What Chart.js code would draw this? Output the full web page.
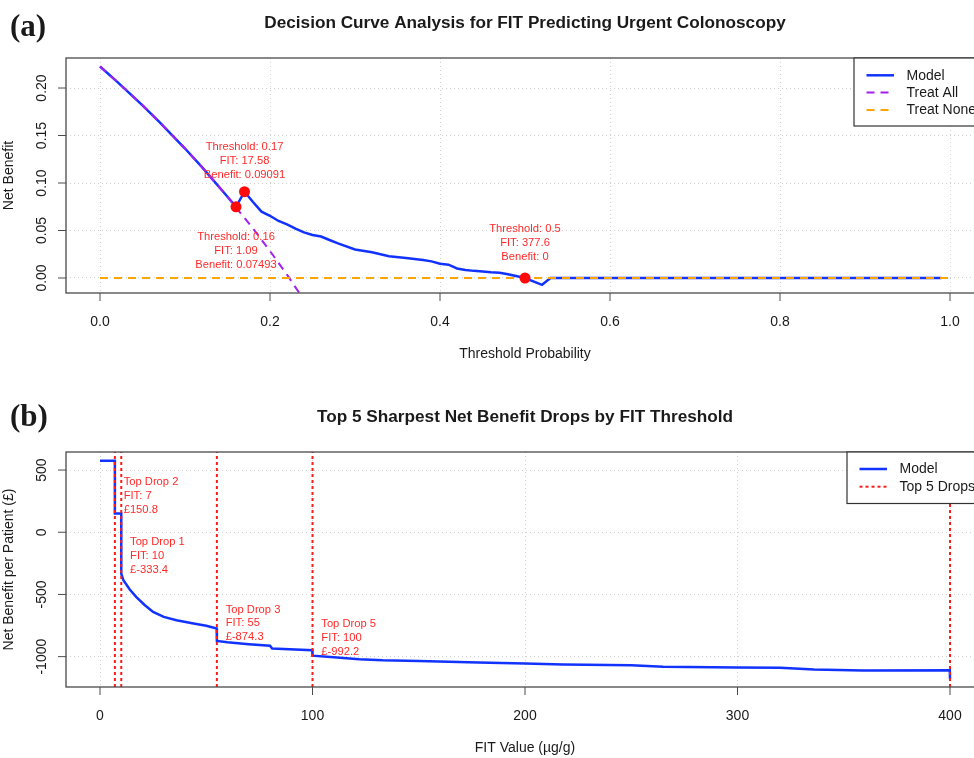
<!DOCTYPE html>
<html>
<head>
<meta charset="utf-8">
<script src="https://cdn.jsdelivr.net/npm/chart.js@4.4.0/dist/chart.umd.min.js"></script>
<style>
html, body { margin: 0; padding: 0; background: #fff; overflow: hidden; }
#wrap { position: relative; width: 974px; height: 758px; overflow: hidden; }
canvas { position: absolute; left: 0; }
#chartA { top: 0; }
#chartB { top: 379px; }
</style>
</head>
<body>
<div id="wrap">
  <canvas id="chartA" width="1010" height="379"></canvas>
  <canvas id="chartB" width="1010" height="379"></canvas>
</div>
<script>
// ---------- panel (a): decision curve ----------
const thresholds = [0, 0.02, 0.05, 0.07, 0.10, 0.12, 0.15, 0.16, 0.17, 0.18, 0.19, 0.20, 0.21, 0.22, 0.23,
  0.24, 0.25, 0.26, 0.27, 0.28, 0.30, 0.32, 0.34, 0.36, 0.38, 0.39, 0.40, 0.41, 0.42, 0.43, 0.44, 0.46,
  0.47, 0.48, 0.50, 0.52, 0.53, 0.60, 0.70, 0.80, 0.90, 0.99];
const modelBenefit = [0.2227, 0.2068, 0.1818, 0.1642, 0.1363, 0.1167, 0.0855, 0.07493, 0.09091, 0.0800,
  0.0698, 0.0655, 0.0600, 0.0565, 0.0520, 0.0480, 0.0452, 0.0437, 0.0400, 0.0365, 0.0300, 0.0270,
  0.0230, 0.0210, 0.0190, 0.0175, 0.0150, 0.0140, 0.0100, 0.0085, 0.0075, 0.0060, 0.0055, 0.0040,
  0, -0.0072, 0, 0, 0, 0, 0, 0];
const treatAllThr = [0, 0.02, 0.05, 0.07, 0.10, 0.12, 0.15, 0.18, 0.20, 0.22, 0.25];
const treatAllBenefit = [0.2227, 0.2068, 0.1818, 0.1642, 0.1363, 0.1167, 0.0855, 0.0521, 0.0284, 0.0035, -0.0364];
const treatNoneThr = [0, 1];
const treatNoneBenefit = [0, 0];
const keyThr = [0.17, 0.16, 0.5];
const keyFit = [17.58, 1.09, 377.6];
const keyBenefit = [0.09091, 0.07493, 0];
const xTicksA = [0, 0.2, 0.4, 0.6, 0.8, 1.0];
const xTickLabelsA = ['0.0', '0.2', '0.4', '0.6', '0.8', '1.0'];
const yTicksA = [0, 0.05, 0.10, 0.15, 0.20];
const yTickLabelsA = ['0.00', '0.05', '0.10', '0.15', '0.20'];

// ---------- panel (b): net benefit per patient ----------
const fitValues = [0, 7, 7, 10, 10, 11, 14, 17, 21, 25, 30, 36, 44, 50, 54.9, 55, 60, 70, 80, 81,
  99.9, 100, 110, 122, 133, 150, 178, 200, 218, 250, 265, 300, 320, 336, 359, 399.9, 400];
const netBenefitGBP = [575, 575, 150.8, 150.8, -333.4, -385, -460, -519, -585, -640, -680, -707, -733,
  -752, -774, -874.3, -885, -900, -912, -935, -948, -992.2, -1005, -1020, -1029, -1035, -1047, -1055,
  -1063, -1070, -1082, -1087, -1090, -1103, -1111, -1109, -1180];
const dropFit = [7, 10, 55, 100, 400];
const dropValue = [150.8, -333.4, -874.3, -992.2, null];
const dropName = ['Top Drop 2', 'Top Drop 1', 'Top Drop 3', 'Top Drop 5', null];
const xTicksB = [0, 100, 200, 300, 400];
const xTickLabelsB = ['0', '100', '200', '300', '400'];
const yTicksB = [500, 0, -500, -1000];
const yTickLabelsB = ['500', '0', '-500', '-1000'];

const FONT = "'Liberation Sans', Arial, sans-serif";
const BLUE = '#1233ff';

function pts(xs, ys) {
  return xs.map((x, i) => ({x: x, y: ys[i]}));
}

function rScale(min, max, ticks, axis, size) {
  return {
    type: 'linear', min: min, max: max,
    afterBuildTicks: s => { s.ticks = ticks.map(v => ({value: v})); },
    afterFit: s => { if (axis === 'x') s.height = size; else s.width = size; },
    ticks: {display: false},
    grid: {color: '#d0d0d0', lineWidth: 1, drawTicks: false},
    border: {display: false, dash: [1, 3]}
  };
}

// draws the R-style box, axes, labels, legend and notes
const rPlot = {
  id: 'rPlot',
  afterDraw(chart, args, o) {
    const ctx = chart.ctx, a = chart.chartArea;
    const x = chart.scales.x, y = chart.scales.y;
    const cx = (a.left + a.right) / 2, cy = (a.top + a.bottom) / 2;
    ctx.save();

    // box + axes
    ctx.strokeStyle = '#4a4a4a';
    ctx.lineWidth = 1.3;
    ctx.strokeRect(a.left, a.top, a.right - a.left, a.bottom - a.top);
    ctx.lineWidth = 1;
    ctx.beginPath();
    o.xTicks.forEach(v => {
      const px = x.getPixelForValue(v);
      ctx.moveTo(px, a.bottom); ctx.lineTo(px, a.bottom + 8);
    });
    o.yTicks.forEach(v => {
      const py = y.getPixelForValue(v);
      ctx.moveTo(a.left, py); ctx.lineTo(a.left - 8, py);
    });
    ctx.stroke();

    ctx.fillStyle = '#1a1a1a';
    ctx.font = '14px ' + FONT;
    ctx.textAlign = 'center';
    ctx.textBaseline = 'alphabetic';
    o.xTicks.forEach((v, i) => ctx.fillText(o.xLabels[i], x.getPixelForValue(v), a.bottom + 32.5));
    ctx.fillText(o.xTitle, cx, a.bottom + 65);
    o.yTicks.forEach((v, i) => {
      ctx.save();
      ctx.translate(46, y.getPixelForValue(v));
      ctx.rotate(-Math.PI / 2);
      ctx.fillText(o.yLabels[i], 0, 0);
      ctx.restore();
    });
    ctx.save();
    ctx.translate(12.7, cy);
    ctx.rotate(-Math.PI / 2);
    ctx.fillText(o.yTitle, 0, 0);
    ctx.restore();

    // main title and panel letter
    ctx.font = 'bold 17.2px ' + FONT;
    ctx.fillText(o.title, cx, a.top - 30);
    ctx.textAlign = 'left';
    ctx.font = 'bold 31px "Liberation Serif", "DejaVu Serif", serif';
    ctx.fillText(o.letter, 10, o.letterY);

    // red notes
    ctx.fillStyle = '#ff2a2a';
    ctx.font = '11.2px ' + FONT;
    o.notes.forEach(n => {
      ctx.textAlign = n.align;
      const px = x.getPixelForValue(n.x) + n.dx;
      const py = y.getPixelForValue(n.y) + n.dy;
      n.lines.forEach((t, k) => {
        ctx.textBaseline = 'middle';
        ctx.fillText(t, px, py + (k - 1) * 13.7);
      });
    });

    // legend
    const L = o.legend;
    ctx.fillStyle = '#fff';
    ctx.fillRect(L.left, a.top, chart.width - L.left + 5, L.bottom - a.top);
    ctx.strokeStyle = '#333';
    ctx.lineWidth = 1.2;
    ctx.strokeRect(L.left, a.top, chart.width - L.left + 5, L.bottom - a.top);
    ctx.font = '14px ' + FONT;
    ctx.textAlign = 'left';
    ctx.textBaseline = 'middle';
    L.items.forEach((di, k) => {
      const ds = chart.data.datasets[di];
      const ly = L.firstY + k * L.step;
      ctx.strokeStyle = ds.borderColor;
      ctx.lineWidth = ds.borderWidth;
      ctx.setLineDash(ds.borderDash || []);
      ctx.beginPath();
      ctx.moveTo(L.left + 12.5, ly);
      ctx.lineTo(L.left + 40, ly);
      ctx.stroke();
      ctx.setLineDash([]);
      ctx.fillStyle = '#1a1a1a';
      ctx.fillText(ds.label, L.left + 52.5, ly + 0.5);
    });
    ctx.restore();
  }
};

const keyNotes = keyThr.map((t, i) => ({
  x: t, y: keyBenefit[i], align: 'center', dx: 0,
  dy: [-30.6, 44.2, -35][i],
  lines: ['Threshold: ' + t, 'FIT: ' + keyFit[i], 'Benefit: ' + keyBenefit[i]]
}));

new Chart(document.getElementById('chartA'), {
  type: 'scatter',
  data: {
    datasets: [
      {label: 'Model', data: pts(thresholds, modelBenefit), showLine: true, borderColor: BLUE,
        borderWidth: 2.5, pointRadius: 0, order: 3},
      {label: 'Treat All', data: pts(treatAllThr, treatAllBenefit), showLine: true, borderColor: '#a020f0',
        borderWidth: 2, borderDash: [8, 6], pointRadius: 0, order: 2},
      {label: 'Treat None', data: pts(treatNoneThr, treatNoneBenefit), showLine: true, borderColor: '#ffa500',
        borderWidth: 2, borderDash: [8, 6], pointRadius: 0, order: 1},
      {label: 'Key points', data: pts(keyThr, keyBenefit), showLine: false, pointRadius: 5.5,
        pointBackgroundColor: '#ff0a0a', pointBorderWidth: 0, order: 0}
    ]
  },
  options: {
    responsive: false, animation: false,
    layout: {padding: {left: 0, top: 58, right: 26, bottom: 0}},
    scales: {
      x: rScale(-0.04, 1.04, xTicksA, 'x', 86),
      y: rScale(-0.0158, 0.2316, yTicksA, 'y', 66)
    },
    plugins: {
      legend: {display: false}, tooltip: {enabled: false},
      rPlot: {
        xTicks: xTicksA, xLabels: xTickLabelsA, yTicks: yTicksA, yLabels: yTickLabelsA,
        xTitle: 'Threshold Probability', yTitle: 'Net Benefit',
        title: 'Decision Curve Analysis for FIT Predicting Urgent Colonoscopy',
        letter: '(a)', letterY: 36,
        notes: keyNotes,
        legend: {left: 854, bottom: 126, firstY: 75.3, step: 17.3, items: [0, 1, 2]}
      }
    }
  },
  plugins: [rPlot]
});

const yMinB = -1244, yMaxB = 645;
const dropSets = dropFit.map(f => ({
  label: 'Top 5 Drops', data: [{x: f, y: yMinB}, {x: f, y: yMaxB}], showLine: true,
  borderColor: '#ff1a1a', borderWidth: 2, borderDash: [3, 3], pointRadius: 0, order: 0
}));
const dropNotes = [];
dropFit.forEach((f, i) => {
  if (!dropName[i]) return;
  dropNotes.push({x: f, y: dropValue[i], align: 'left', dx: 8.8, dy: -17.7,
    lines: [dropName[i], 'FIT: ' + f, '£' + dropValue[i]]});
});

new Chart(document.getElementById('chartB'), {
  type: 'scatter',
  data: {
    datasets: [
      {label: 'Model', data: pts(fitValues, netBenefitGBP), showLine: true, borderColor: BLUE,
        borderWidth: 2.5, pointRadius: 0, order: 1}
    ].concat(dropSets)
  },
  options: {
    responsive: false, animation: false,
    layout: {padding: {left: 0, top: 73, right: 26, bottom: 0}},
    scales: {
      x: rScale(-16, 416, xTicksB, 'x', 71),
      y: rScale(yMinB, yMaxB, yTicksB, 'y', 66)
    },
    plugins: {
      legend: {display: false}, tooltip: {enabled: false},
      rPlot: {
        xTicks: xTicksB, xLabels: xTickLabelsB, yTicks: yTicksB, yLabels: yTickLabelsB,
        xTitle: 'FIT Value (µg/g)', yTitle: 'Net Benefit per Patient (£)',
        title: 'Top 5 Sharpest Net Benefit Drops by FIT Threshold',
        letter: '(b)', letterY: 47,
        notes: dropNotes,
        legend: {left: 847, bottom: 124.5, firstY: 90, step: 17.7, items: [0, 1]}
      }
    }
  },
  plugins: [rPlot]
});
</script>
</body>
</html>
